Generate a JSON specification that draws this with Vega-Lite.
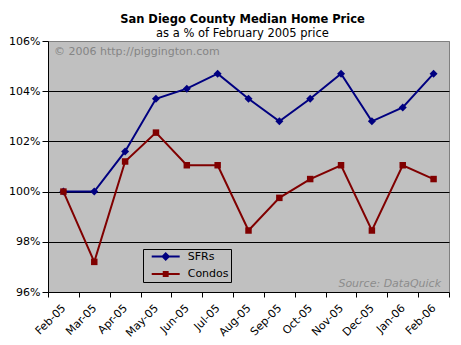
{
  "$schema": "https://vega.github.io/schema/vega-lite/v6.json",
  "width": 401,
  "height": 251,
  "autosize": {"type": "none"},
  "padding": {"left": 48, "top": 41, "right": 12, "bottom": 53},
  "background": "white",
  "title": {
    "text": "San Diego County Median Home Price",
    "subtitle": "as a % of February 2005 price",
    "anchor": "middle",
    "frame": "group",
    "font": "DejaVu Sans",
    "fontSize": 11.5,
    "fontWeight": "bold",
    "color": "black",
    "subtitleFont": "DejaVu Sans",
    "subtitleFontSize": 11.5,
    "subtitleColor": "black",
    "subtitlePadding": 2,
    "offset": -4,
    "dx": -6
  },
  "data": {
    "values": [
      {"month": "Feb-05", "series": "SFRs", "value": 100},
      {"month": "Mar-05", "series": "SFRs", "value": 100},
      {"month": "Apr-05", "series": "SFRs", "value": 101.6},
      {"month": "May-05", "series": "SFRs", "value": 103.7},
      {"month": "Jun-05", "series": "SFRs", "value": 104.1},
      {"month": "Jul-05", "series": "SFRs", "value": 104.7},
      {"month": "Aug-05", "series": "SFRs", "value": 103.7},
      {"month": "Sep-05", "series": "SFRs", "value": 102.8},
      {"month": "Oct-05", "series": "SFRs", "value": 103.7},
      {"month": "Nov-05", "series": "SFRs", "value": 104.7},
      {"month": "Dec-05", "series": "SFRs", "value": 102.8},
      {"month": "Jan-06", "series": "SFRs", "value": 103.35},
      {"month": "Feb-06", "series": "SFRs", "value": 104.7},
      {"month": "Feb-05", "series": "Condos", "value": 100},
      {"month": "Mar-05", "series": "Condos", "value": 97.2},
      {"month": "Apr-05", "series": "Condos", "value": 101.2},
      {"month": "May-05", "series": "Condos", "value": 102.35},
      {"month": "Jun-05", "series": "Condos", "value": 101.05},
      {"month": "Jul-05", "series": "Condos", "value": 101.05},
      {"month": "Aug-05", "series": "Condos", "value": 98.45},
      {"month": "Sep-05", "series": "Condos", "value": 99.75},
      {"month": "Oct-05", "series": "Condos", "value": 100.5},
      {"month": "Nov-05", "series": "Condos", "value": 101.05},
      {"month": "Dec-05", "series": "Condos", "value": 98.45},
      {"month": "Jan-06", "series": "Condos", "value": 101.05},
      {"month": "Feb-06", "series": "Condos", "value": 100.5}
    ]
  },
  "encoding": {
    "x": {
      "field": "month",
      "type": "ordinal",
      "sort": null,
      "scale": {"type": "band", "paddingInner": 0, "paddingOuter": 0},
      "axis": {
        "title": null,
        "labelAngle": -45,
        "tickBand": "extent",
        "tickSize": 5,
        "labelPadding": 5,
        "labelOffset": -4,
        "grid": false
      }
    },
    "y": {
      "field": "value",
      "type": "quantitative",
      "scale": {"domain": [96, 106], "nice": false, "zero": false},
      "axis": {
        "title": null,
        "values": [96, 98, 100, 102, 104, 106],
        "labelExpr": "datum.value + '%'",
        "tickSize": 6,
        "labelPadding": 2,
        "grid": true,
        "gridColor": {"condition": {"test": "datum.value >= 106 || datum.value <= 96", "value": "#808080"}, "value": "black"}
      }
    }
  },
  "layer": [
    {
      "mark": {"type": "line", "strokeWidth": 2},
      "encoding": {
        "color": {
          "field": "series",
          "type": "nominal",
          "scale": {"domain": ["SFRs", "Condos"], "range": ["#000080", "#800000"]},
          "legend": {
            "title": null,
            "orient": "none",
            "legendX": 95,
            "legendY": 208,
            "padding": 2,
            "fillColor": "#C0C0C0",
            "strokeColor": "black",
            "symbolSize": 784,
            "symbolStrokeWidth": 2,
            "clipHeight": 11,
            "rowPadding": 5.5,
            "symbolOffset": 5.7,
            "labelOffset": 7,
            "labelFont": "DejaVu Sans",
            "labelFontSize": 11,
            "labelColor": "black",
            "labelExpr": "datum.label + '  '",
            "encode": {
              "symbols": {
                "update": {
                  "shape": {"signal": "datum.value === 'SFRs' ? 'M-1,0H1M0,-0.22L0.22,0L0,0.22L-0.22,0Z' : 'M-1,0H1M-0.14,-0.14H0.14V0.14H-0.14Z'"},
                  "fill": {"signal": "datum.value === 'SFRs' ? '#000080' : '#800000'"},
                  "stroke": {"signal": "datum.value === 'SFRs' ? '#000080' : '#800000'"},
                  "strokeWidth": {"value": 2},
                  "opacity": {"value": 1}
                }
              }
            }
          }
        }
      }
    },
    {
      "transform": [{"filter": "datum.series === 'SFRs'"}],
      "mark": {"type": "point", "filled": true, "opacity": 1, "shape": "diamond", "size": 64, "fill": "#000080", "strokeWidth": 0}
    },
    {
      "transform": [{"filter": "datum.series === 'Condos'"}],
      "mark": {"type": "point", "filled": true, "opacity": 1, "shape": "square", "size": 42, "fill": "#800000", "strokeWidth": 0}
    },
    {
      "transform": [{"filter": "datum.series === 'SFRs' && datum.month === 'Feb-05'"}],
      "mark": {"type": "text", "align": "left", "baseline": "top", "dx": 6, "dy": 5, "font": "DejaVu Sans", "fontSize": 11, "color": "#858585"},
      "encoding": {
        "x": {"datum": "Feb-05", "type": "ordinal", "bandPosition": 0},
        "y": {"datum": 106, "type": "quantitative"},
        "text": {"value": "© 2006 http://piggington.com"}
      }
    },
    {
      "transform": [{"filter": "datum.series === 'SFRs' && datum.month === 'Feb-05'"}],
      "mark": {"type": "text", "align": "right", "baseline": "alphabetic", "dx": -8, "dy": -5, "font": "DejaVu Sans", "fontSize": 11, "fontStyle": "italic", "color": "#8C8C8C"},
      "encoding": {
        "x": {"datum": "Feb-06", "type": "ordinal", "bandPosition": 1},
        "y": {"datum": 96, "type": "quantitative"},
        "text": {"value": "Source: DataQuick"}
      }
    }
  ],
  "config": {
    "view": {"fill": "#C0C0C0", "stroke": "#808080", "strokeWidth": 1},
    "axis": {
      "domainColor": "black",
      "tickColor": "black",
      "labelColor": "black",
      "labelFont": "DejaVu Sans",
      "labelFontSize": 11,
      "gridWidth": 1
    }
  }
}
